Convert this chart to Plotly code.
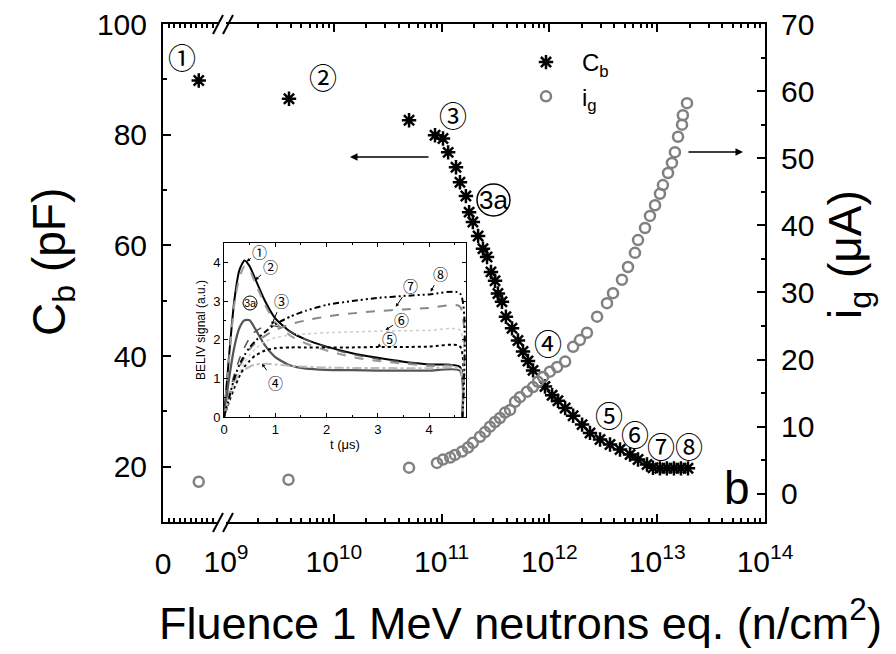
import plotly.graph_objects as go

W, H = 896, 654

# ---------------- main chart data ----------------
# unirradiated-side point (left, broken segment of the fluence axis)
cb_first_fluence = [6.5e8]
cb_first_value = [89.8]
ig_first_fluence = [6.5e8]
ig_first_value = [1.8]

cb_fluence = [3.84e9, 4.99e10, 8.69e10, 1.03e11, 1.15e11, 1.36e11, 1.48e11, 1.68e11,
              1.80e11, 1.95e11, 2.18e11, 2.42e11, 2.64e11, 2.87e11, 3.13e11, 3.33e11,
              3.63e11, 3.95e11, 4.50e11, 5.11e11, 5.69e11, 6.33e11, 7.05e11, 9.10e11,
              1.06e12, 1.20e12, 1.40e12, 1.66e12, 2.01e12, 2.38e12, 2.95e12, 3.65e12,
              4.52e12, 5.60e12, 6.64e12, 8.04e12, 9.14e12, 1.06e13, 1.23e13, 1.43e13,
              1.66e13, 1.93e13]
cb_value = [86.5, 82.6, 79.9, 79.3, 76.8, 74.1, 71.4, 68.9,
            66.0, 64.2, 61.7, 59.4, 57.9, 55.2, 53.6, 51.3,
            49.8, 47.1, 45.0, 42.8, 40.8, 39.1, 37.4, 34.5,
            32.9, 31.9, 30.6, 29.2, 27.6, 26.1, 24.9, 24.0,
            23.1, 22.2, 21.3, 20.4, 19.8, 19.7, 19.7, 19.7,
            19.7, 19.7]

ig_fluence = [3.8e9, 4.99e10, 9.06e10, 1.03e11, 1.20e11, 1.33e11, 1.55e11, 1.76e11,
              1.95e11, 2.27e11, 2.53e11, 2.81e11, 3.13e11, 3.48e11, 3.87e11, 4.32e11,
              4.80e11, 5.33e11, 6.19e11, 7.05e11, 7.83e11, 8.73e11, 1.01e12, 1.18e12,
              1.40e12, 1.66e12, 1.92e12, 2.23e12, 2.77e12, 3.42e12, 3.89e12, 4.71e12,
              5.36e12, 6.22e12, 6.64e12, 7.71e12, 8.57e12, 9.55e12, 1.06e13, 1.13e13,
              1.26e13, 1.37e13, 1.46e13, 1.56e13, 1.70e13, 1.73e13, 1.89e13]
ig_value = [2.1, 3.9, 4.6, 5.1, 5.4, 5.8, 6.3, 6.9,
            7.6, 8.5, 9.2, 10.0, 10.7, 11.3, 12.1, 12.5,
            13.7, 14.4, 15.2, 15.9, 16.7, 17.4, 18.2, 18.9,
            19.7, 21.9, 22.9, 24.0, 26.4, 28.4, 29.9, 31.9,
            33.8, 35.9, 37.8, 39.6, 41.4, 43.0, 44.7, 46.0,
            47.8, 49.3, 50.9, 53.2, 55.0, 56.4, 58.2]

x_tick_vals = [1e9, 1e10, 1e11, 1e12, 1e13, 1e14]
x_tick_text = ["10<sup>9</sup>", "10<sup>10</sup>", "10<sup>11</sup>",
               "10<sup>12</sup>", "10<sup>13</sup>", "10<sup>14</sup>"]
cb_ticks = [20, 40, 60, 80, 100]
ig_ticks = [0, 10, 20, 30, 40, 50, 60, 70]

# ---------------- inset data (BELIV transients) ----------------
t_us = [0, 0.1, 0.2, 0.3, 0.4, 0.5, 0.6, 0.8, 1.0, 1.3, 1.6, 2.0, 2.5, 3.0, 3.5, 4.0, 4.6, 4.65]
sig_1 = [0, 1.6, 3.0, 3.8, 4.05, 3.9, 3.6, 3.0, 2.55, 2.2, 2.0, 1.82, 1.65, 1.53, 1.43, 1.36, 1.3, 0]
sig_2 = [0, 1.5, 2.9, 3.6, 3.9, 3.8, 3.5, 2.9, 2.45, 2.1, 1.9, 1.72, 1.55, 1.45, 1.38, 1.32, 1.28, 0]
sig_3 = [0, 0.6, 1.1, 1.5, 1.8, 2.05, 2.2, 2.35, 2.35, 2.2, 2.0, 1.8, 1.62, 1.5, 1.42, 1.36, 1.3, 0]
sig_3a = [0, 1.0, 1.8, 2.3, 2.5, 2.5, 2.3, 1.85, 1.55, 1.33, 1.25, 1.22, 1.21, 1.2, 1.2, 1.2, 1.2, 0]
sig_4 = [0, 0.55, 0.9, 1.1, 1.22, 1.3, 1.35, 1.38, 1.36, 1.32, 1.3, 1.28, 1.27, 1.27, 1.26, 1.26, 1.25, 0]
sig_5 = [0, 0.4, 0.75, 1.05, 1.3, 1.45, 1.58, 1.72, 1.78, 1.8, 1.8, 1.8, 1.8, 1.81, 1.81, 1.82, 1.83, 0]
sig_6 = [0, 0.45, 0.85, 1.15, 1.4, 1.6, 1.75, 1.95, 2.05, 2.12, 2.15, 2.18, 2.2, 2.22, 2.23, 2.24, 2.25, 0]
sig_7 = [0, 0.5, 0.95, 1.3, 1.55, 1.75, 1.9, 2.1, 2.25, 2.4, 2.5, 2.6, 2.68, 2.74, 2.78, 2.82, 2.86, 0]
sig_8 = [0, 0.5, 1.0, 1.35, 1.6, 1.8, 1.95, 2.2, 2.4, 2.6, 2.75, 2.9, 3.0, 3.08, 3.13, 3.17, 3.2, 0]

FONT = "Liberation Sans, Arial, sans-serif"
CIRC_FONT = "Noto Sans CJK JP, Noto Sans CJK SC, sans-serif"


def px(x):
    return x / W


def py(y):
    return 1 - y / H


fig = go.Figure()

star = dict(symbol="asterisk-open", size=12, color="black", line=dict(width=2.5, color="black"))
circ = dict(symbol="circle-open", size=10, color="#808080", line=dict(width=2.5, color="#808080"))

# i_g (right axis)
fig.add_trace(go.Scatter(x=ig_first_fluence, y=ig_first_value, mode="markers", marker=circ,
                         xaxis="x", yaxis="y3", showlegend=False))
fig.add_trace(go.Scatter(x=ig_fluence, y=ig_value, mode="markers", marker=circ,
                         xaxis="x2", yaxis="y3", name="i<sub>g</sub>", legendrank=2))
# C_b (left axis)
fig.add_trace(go.Scatter(x=cb_first_fluence, y=cb_first_value, mode="markers", marker=star,
                         xaxis="x", yaxis="y", showlegend=False))
fig.add_trace(go.Scatter(x=cb_fluence, y=cb_value, mode="markers", marker=star,
                         xaxis="x2", yaxis="y", name="C<sub>b</sub>", legendrank=1))

# inset curves
inset_styles = [
    (sig_1, "black", "solid", 2),
    (sig_2, "#999999", "dash", 2),
    (sig_3, "#555555", "dash", 1.5),
    (sig_3a, "#555555", "solid", 2.2),
    (sig_4, "#bbbbbb", "dashdot", 2),
    (sig_5, "black", "dot", 2),
    (sig_6, "#cccccc", "dot", 1.5),
    (sig_7, "#888888", "dash", 2),
    (sig_8, "black", "6px,3px,2px,3px,2px,3px", 2),
]
for sig, col, dash, w in inset_styles:
    fig.add_trace(go.Scatter(x=t_us, y=sig, mode="lines",
                             line=dict(color=col, dash=dash, width=w, shape="spline", smoothing=0.6),
                             xaxis="x3", yaxis="y4", showlegend=False))

main_axis = dict(showline=True, linewidth=2, linecolor="black", ticks="inside", ticklen=8,
                 tickwidth=2, tickcolor="black", showgrid=False, zeroline=False, automargin=False,
                 tickfont=dict(family=FONT, size=30, color="black"))

dec_minor = [m * 10 ** e for e in range(9, 14) for m in range(2, 10)]

fig.update_layout(
    width=W, height=H, margin=dict(l=0, r=0, t=0, b=0, pad=0, autoexpand=False),
    paper_bgcolor="white", plot_bgcolor="white",
    font=dict(family=FONT, color="black"),
    xaxis=dict(main_axis, type="linear", range=[0, 1e9], domain=[px(163), px(218)], anchor="y",
               tickmode="array", tickvals=[0], ticktext=["0"], mirror="ticks", ticklabelstandoff=14,
               minor=dict(ticks="inside", ticklen=4, tickwidth=1.5, tickcolor="black", dtick=1e8)),
    xaxis2=dict(main_axis, type="log", range=[9, 14], domain=[px(226), px(765)], anchor="y",
                tickmode="array", tickvals=x_tick_vals, ticktext=x_tick_text, mirror="ticks",
                ticklabelstandoff=12,
                minor=dict(ticks="inside", ticklen=4, tickwidth=1.5, tickcolor="black",
                           tickmode="array", tickvals=dec_minor)),
    yaxis=dict(main_axis, range=[10, 100], domain=[py(522), py(24)], anchor="x", side="left",
               tickmode="array", tickvals=cb_ticks, ticklabelstandoff=8,
               minor=dict(ticks="inside", ticklen=4, tickwidth=1.5, tickcolor="black", dtick=10, tick0=0)),
    yaxis3=dict(main_axis, range=[-4.2, 70], overlaying="y", side="right", anchor="x2",
                tickmode="array", tickvals=ig_ticks, ticklabelstandoff=8,
                minor=dict(ticks="inside", ticklen=4, tickwidth=1.5, tickcolor="black", dtick=5, tick0=0)),
    xaxis3=dict(domain=[px(224), px(466)], anchor="y4", range=[0, 4.72], showline=True, linewidth=1,
                linecolor="black", mirror="ticks", ticks="inside", ticklen=4, tickcolor="black",
                showgrid=False, zeroline=False, dtick=1, tick0=0, automargin=False,
                tickfont=dict(family=FONT, size=13, color="black"),
                title=dict(text="t (μs)", font=dict(family=FONT, size=13), standoff=2),
                minor=dict(ticks="inside", ticklen=2, dtick=0.5, tickcolor="black")),
    yaxis4=dict(domain=[py(417), py(243)], anchor="x3", range=[0, 4.5], showline=True, linewidth=1,
                linecolor="black", mirror="ticks", ticks="inside", ticklen=4, tickcolor="black",
                showgrid=False, zeroline=False, dtick=1, tick0=0, automargin=False,
                tickfont=dict(family=FONT, size=13, color="black"),
                title=dict(text="BELIV signal (a.u.)", font=dict(family=FONT, size=12), standoff=4),
                minor=dict(ticks="inside", ticklen=2, dtick=0.5, tickcolor="black")),
    legend=dict(x=px(510), y=py(40), xanchor="left", yanchor="top", bgcolor="rgba(0,0,0,0)",
                font=dict(family=FONT, size=24, color="black"), itemwidth=62, tracegroupgap=0),
    showlegend=True,
)

ann = []


def label(x, y, text, size, family=FONT, angle=0):
    ann.append(dict(x=px(x), y=py(y), xref="paper", yref="paper", text=text, showarrow=False,
                    xanchor="center", yanchor="middle", textangle=angle,
                    font=dict(family=family, size=size, color="black")))


# axis titles
label(52, 262, "C<sub>b</sub> (pF)", 46, angle=-90)
label(848, 255, "i<sub>g</sub> (μA)", 46, angle=-90)
label(520, 620, "Fluence 1 MeV neutrons eq. (n/cm<sup>2</sup>)", 45)
label(737, 488, "b", 46)

# circled labels in main plot
for txt, (x, y) in [("①", (182, 57)), ("②", (323, 77)), ("③", (453, 115)), ("④", (548, 343)),
                    ("⑤", (609, 415)), ("⑥", (635, 434)), ("⑦", (661, 446)), ("⑧", (689, 446))]:
    label(x, y, txt, 28, family=CIRC_FONT)
label(493, 200, "3a", 26)

# arrows pointing to the axes (offsets in pixels)
ann.append(dict(x=px(350), y=py(157), ax=80, ay=0, xref="paper", yref="paper",
                text="", showarrow=True, arrowhead=2,
                arrowsize=1, arrowwidth=1.5, arrowcolor="black"))
ann.append(dict(x=px(743), y=py(152), ax=-56, ay=0, xref="paper", yref="paper",
                text="", showarrow=True, arrowhead=2,
                arrowsize=1, arrowwidth=1.5, arrowcolor="black"))

# inset labels with arrows (label at tail, arrow head at curve)
for txt, (lx, ly), (hx, hy) in [("①", (0.70, 4.28), (0.44, 4.02)), ("②", (0.90, 3.89), (0.61, 3.54)),
                                ("③", (1.13, 3.02), (0.93, 2.38)), ("④", (1.0, 0.9), (0.74, 1.38)),
                                ("⑤", (3.22, 2.03), (2.99, 1.81)), ("⑥", (3.47, 2.52), (3.15, 2.25)),
                                ("⑦", (3.64, 3.41), (3.35, 2.85)), ("⑧", (4.23, 3.72), (4.03, 3.24))]:
    ann.append(dict(x=hx, y=hy, ax=lx, ay=ly, xref="x3", yref="y4", axref="x3", ayref="y4",
                    text=txt, showarrow=True, arrowhead=2, arrowsize=0.7, arrowwidth=1,
                    arrowcolor="black", standoff=0, startstandoff=0,
                    font=dict(family=CIRC_FONT, size=15, color="black")))
ann.append(dict(x=0.51, y=2.95, xref="x3", yref="y4", text="3a", showarrow=False,
                xanchor="center", yanchor="middle",
                font=dict(family=FONT, size=11, color="black")))

fig.update_layout(annotations=ann)

shapes = []
# circle around "3a" labels
shapes.append(dict(type="circle", xref="paper", yref="paper", x0=px(477), x1=px(510),
                   y0=py(216), y1=py(184), line=dict(color="black", width=1.5)))
shapes.append(dict(type="circle", xref="paper", yref="paper", x0=px(243), x1=px(257),
                   y0=py(310), y1=py(296), line=dict(color="black", width=1)))
# axis break marks
for yb in (522, 24):
    for dx in (0, 10):
        shapes.append(dict(type="line", xref="paper", yref="paper",
                           x0=px(213 + dx), y0=py(yb + 10), x1=px(223 + dx), y1=py(yb - 9),
                           line=dict(color="black", width=2)))
fig.update_layout(shapes=shapes)

fig.write_html("out.html")
